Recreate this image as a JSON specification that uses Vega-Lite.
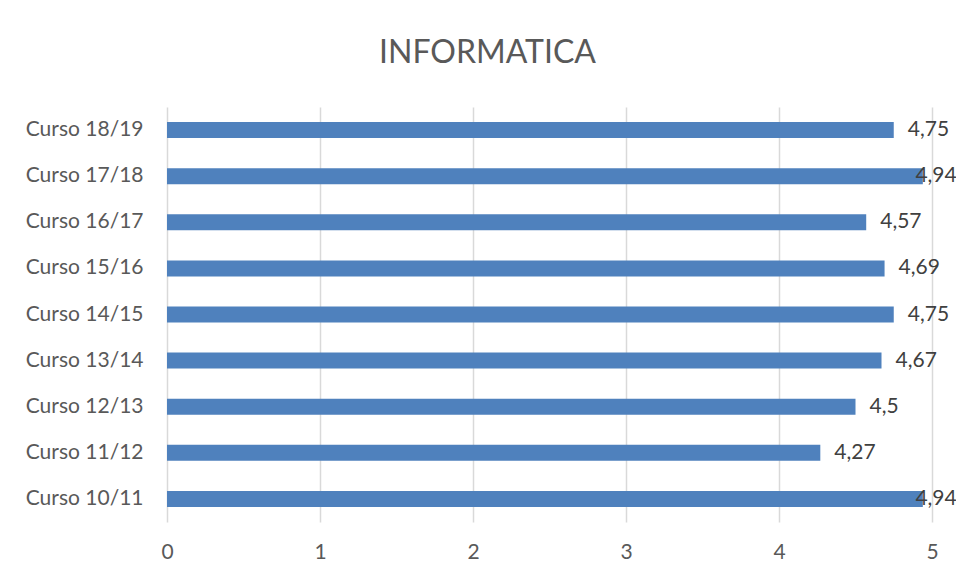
{
  "$schema": "https://vega.github.io/schema/vega-lite/v6.json",
  "autosize": "none",
  "width": 765,
  "height": 415,
  "padding": {"left": 167, "top": 107, "right": 24, "bottom": 57},
  "background": "white",
  "config": {
    "view": {"stroke": null},
    "font": "Lato",
    "locale": {"number": {"decimal": ",", "thousands": ".", "grouping": [3], "currency": ["", " €"]}}
  },
  "title": {
    "text": "INFORMATICA",
    "fontSize": 32,
    "font": "Lato",
    "fontWeight": "normal",
    "color": "#595959",
    "anchor": "middle",
    "baseline": "alphabetic",
    "offset": 12,
    "dx": -62
  },
  "data": {
    "values": [
      {"curso": "Curso 18/19", "valor": 4.75},
      {"curso": "Curso 17/18", "valor": 4.94},
      {"curso": "Curso 16/17", "valor": 4.57},
      {"curso": "Curso 15/16", "valor": 4.69},
      {"curso": "Curso 14/15", "valor": 4.75},
      {"curso": "Curso 13/14", "valor": 4.67},
      {"curso": "Curso 12/13", "valor": 4.5},
      {"curso": "Curso 11/12", "valor": 4.27},
      {"curso": "Curso 10/11", "valor": 4.94}
    ]
  },
  "encoding": {
    "y": {
      "field": "curso",
      "type": "nominal",
      "sort": null,
      "scale": {"paddingInner": 0.653, "paddingOuter": 0.3265},
      "axis": {
        "title": null,
        "domain": false,
        "ticks": false,
        "grid": false,
        "labelPadding": 24,
        "labelFontSize": 21,
        "labelColor": "#595959",
        "labelFont": "Lato"
      }
    }
  },
  "layer": [
    {
      "mark": {"type": "bar", "color": "#4f81bd"},
      "encoding": {
        "x": {
          "field": "valor",
          "type": "quantitative",
          "scale": {"domain": [0, 5], "nice": false},
          "axis": {
            "title": null,
            "values": [0, 1, 2, 3, 4, 5],
            "format": "d",
            "domain": false,
            "ticks": false,
            "grid": true,
            "gridColor": "#d9d9d9",
            "gridWidth": 1.5,
            "labelFlush": false,
            "labelPadding": 19,
            "labelFontSize": 21,
            "labelColor": "#595959",
            "labelFont": "Lato"
          }
        }
      }
    },
    {
      "transform": [{"calculate": "min(datum.valor, 4.8)", "as": "pos"}],
      "mark": {"type": "text", "align": "left", "baseline": "middle", "dx": 14, "fontSize": 21, "color": "#404040", "font": "Lato"},
      "encoding": {
        "x": {"field": "pos", "type": "quantitative"},
        "text": {"field": "valor", "type": "quantitative", "format": "~r"}
      }
    }
  ]
}
